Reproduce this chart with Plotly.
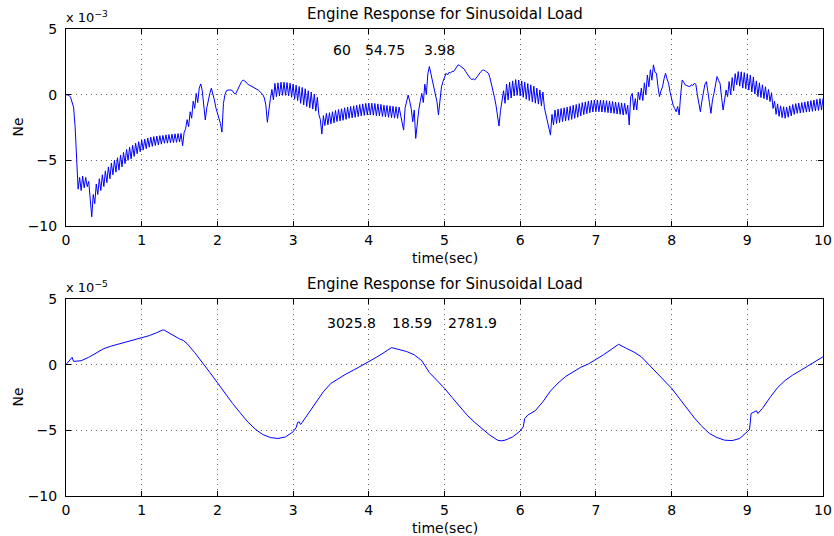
import numpy as np
import plotly.graph_objects as go

# ---------------- data ----------------
# Top panel: Ne (x 1e-3), sampled every 0.02 s from 0 to 10 s
top_ne = [
    0, 0, -0.05, -0.2, -0.5, -0.95, -2.4, -4.6, -7.2, -6.3,
    -7.3, -6.2, -7.1, -6.3, -7.0, -6.6, -8.2, -9.3, -7.6, -8.3,
    -6.8, -7.6, -6.4, -7.3, -6.1, -7.0, -5.8, -6.7, -5.5, -6.4,
    -5.2, -6.1, -5.0, -5.9, -4.8, -5.75, -4.6, -5.5, -4.4, -5.25,
    -4.17, -5.0, -4.0, -4.9, -3.85, -4.7, -3.7, -4.5, -3.58, -4.35,
    -3.46, -4.22, -3.38, -4.12, -3.3, -4.0, -3.23, -3.94, -3.19, -3.87,
    -3.15, -3.82, -3.12, -3.77, -3.1, -3.7, -3.06, -3.69, -3.04, -3.67,
    -3.0, -3.65, -2.98, -3.63, -2.96, -3.6, -2.95, -3.9, -2.9, -2.6,
    -1.9, -2.44, -1.3, -1.8, -0.5, -1.04, 0.1, -0.6, 0.5, 0.82,
    0.3, -0.9, -1.93, -1.0, -0.4, 0.1, 0.49, 0.1, -0.4, -1.0,
    -1.4, -1.8, -2.2, -2.85, -0.66, 0.0, 0.31, 0.35, 0.38, 0.36,
    0.3, 0.1, 0.05, 0.3, 0.49, 0.7, 1.0, 1.12, 1.05, 0.95,
    0.8, 0.74, 0.65, 0.6, 0.55, 0.5, 0.45, 0.35, 0.25, 0.15,
    0.0, -0.25, -0.8, -2.1, -0.9, -0.3, 0.4, -0.4, 0.86, -0.15,
    0.9, -0.1, 0.95, -0.05, 0.95, -0.05, 0.92, -0.1, 0.88, -0.2,
    0.8, -0.35, 0.72, -0.45, 0.62, -0.66, 0.55, -0.78, 0.45, -0.9,
    0.3, -1.0, 0.2, -1.1, 0.05, -1.25, -0.2, -1.5, -1.9, -3.0,
    -1.6, -2.35, -1.42, -2.3, -1.37, -2.22, -1.3, -2.15, -1.2, -2.05,
    -1.13, -2.0, -1.07, -1.95, -1.0, -1.88, -0.95, -1.8, -0.9, -1.77,
    -0.85, -1.72, -0.8, -1.67, -0.75, -1.62, -0.7, -1.58, -0.66, -1.55,
    -0.64, -1.55, -0.65, -1.56, -0.67, -1.6, -0.7, -1.62, -0.74, -1.66,
    -0.8, -1.68, -0.82, -1.72, -0.85, -1.75, -0.88, -1.78, -0.92, -1.8,
    -0.95, -1.5, -1.9, -2.7, -1.0, -0.4, -0.03, -0.5, -1.05, -2.06,
    -1.17, -3.33, -2.0, -1.17, -0.5, 0.1, -0.6, 0.8, 0.0, 1.6,
    2.14, 1.6, 1.0, 0.5, 0.0, -0.53, -1.55, -0.3, 0.6, 1.0,
    1.4, 1.63, 1.5, 1.7, 1.65, 1.78, 1.76, 1.95, 2.15, 2.27,
    2.22, 2.15, 2.05, 1.95, 1.75, 1.55, 1.35, 1.25, 1.15, 1.2,
    1.12, 1.3, 1.45, 1.6, 1.75, 1.85, 1.88, 1.8, 1.72, 1.63,
    1.3, 0.86, 0.4, -0.2, -0.8, -1.8, -2.39, -1.2, -0.41, 0.3,
    -0.66, 0.8, -0.4, 0.95, -0.25, 1.05, -0.1, 1.15, -0.05, 1.12,
    -0.1, 1.05, -0.2, 0.95, -0.35, 0.85, -0.45, 0.75, -0.55, 0.65,
    -0.65, 0.5, -0.72, 0.36, -0.85, 0.2, -1.0, -1.5, -1.9, -2.6,
    -3.08, -1.5, -2.3, -1.17, -2.19, -1.1, -2.12, -1.05, -2.05, -1.0,
    -2.0, -0.95, -1.95, -0.88, -1.88, -0.8, -1.8, -0.75, -1.72, -0.68,
    -1.62, -0.6, -1.52, -0.55, -1.45, -0.48, -1.38, -0.43, -1.32, -0.41,
    -1.3, -0.41, -1.3, -0.42, -1.32, -0.43, -1.34, -0.46, -1.37, -0.48,
    -1.4, -0.52, -1.43, -0.56, -1.47, -0.6, -1.5, -0.63, -1.55, -0.66,
    -1.5, -0.8, -2.31, -0.15, 0.1, -1.17, -0.3, -1.17, 0.2, -0.4,
    0.5, -0.45, 0.9, 0.0, 1.5, 0.6, 1.9, 1.1, 2.27, 1.7,
    1.63, 0.6, -0.15, 0.3, 0.6, 1.2, 1.63, 1.2, 0.86, 0.2,
    -0.41, -0.8, -1.05, -1.3, -0.9, -1.55, 0.0, 1.12, 0.95, 0.74,
    0.7, 0.62, 0.6, 0.75, 0.7, 0.86, 0.8, 0.0, -0.8, -1.3,
    -0.5, 0.1, 0.8, 0.99, 0.3, -0.6, -1.42, -0.4, 0.1, 0.9,
    1.38, 1.1, 0.86, -0.2, -1.17, -0.4, 0.36, -0.15, 1.0, 0.0,
    1.3, 0.3, 1.6, 0.74, 1.76, 0.65, 1.74, 0.5, 1.68, 0.45,
    1.6, 0.35, 1.5, 0.2, 1.35, 0.05, 1.05, -0.15, 0.9, -0.22,
    0.75, -0.3, 0.6, -0.4, 0.4, -0.53, 0.15, -1.05, -0.5, -1.5,
    -0.7, -1.65, -0.85, -1.75, -0.92, -1.8, -0.95, -1.72, -0.85, -1.62,
    -0.75, -1.5, -0.68, -1.42, -0.64, -1.4, -0.6, -1.36, -0.55, -1.33,
    -0.5, -1.3, -0.45, -1.27, -0.4, -1.24, -0.35, -1.2, -0.3, -1.17,
    -0.28,
]
top_t = np.linspace(0, 10, len(top_ne))

# Bottom panel: Ne (x 1e-5)
bot_t = [
    0.0, 0.05, 0.08, 0.1, 0.15, 0.2, 0.3, 0.4, 0.5, 0.6, 0.7, 0.8, 0.9, 1.0,
    1.1, 1.2, 1.28, 1.3, 1.4, 1.5, 1.55, 1.6, 1.7, 1.8, 1.9, 2.0, 2.1, 2.2,
    2.3, 2.4, 2.5, 2.6, 2.7, 2.8, 2.9, 3.0, 3.04, 3.06, 3.08, 3.1, 3.12, 3.2,
    3.3, 3.4, 3.5, 3.6, 3.7, 3.8, 3.9, 4.0, 4.1, 4.2, 4.3, 4.4, 4.5, 4.6,
    4.7, 4.8, 4.9, 5.0, 5.1, 5.2, 5.3, 5.4, 5.5, 5.6, 5.7, 5.75, 5.8, 5.9,
    6.0, 6.04, 6.06, 6.1, 6.2, 6.3, 6.4, 6.5, 6.6, 6.7, 6.8, 6.9, 7.0, 7.1,
    7.2, 7.3, 7.4, 7.5, 7.6, 7.7, 7.8, 7.9, 8.0, 8.1, 8.2, 8.3, 8.4, 8.5,
    8.6, 8.7, 8.8, 8.9, 9.0, 9.03, 9.05, 9.08, 9.12, 9.14, 9.2, 9.3, 9.4,
    9.5, 9.6, 9.7, 9.8, 9.9, 10.0,
]
bot_ne = [
    0.0, 0.36, 0.56, 0.25, 0.3, 0.3, 0.56, 0.92, 1.22, 1.42, 1.58, 1.73, 1.88, 2.04,
    2.21, 2.44, 2.65, 2.62, 2.26, 1.96, 1.85, 1.6, 0.92, 0.2, -0.59, -1.37, -2.19, -2.95,
    -3.66, -4.35, -4.91, -5.32, -5.55, -5.62, -5.5, -5.11, -4.8, -4.4, -4.35, -4.55, -4.4, -3.72,
    -2.82, -2.06, -1.42, -1.04, -0.71, -0.41, -0.1, 0.2, 0.56, 0.92, 1.3, 1.15, 1.0, 0.75,
    0.3, -0.6, -1.2, -1.8, -2.5, -3.2, -3.85, -4.4, -4.9, -5.37, -5.75, -5.8, -5.75, -5.5,
    -5.05, -4.73, -4.1, -3.84, -3.5, -2.82, -2.0, -1.4, -0.9, -0.55, -0.2, 0.05, 0.38, 0.75,
    1.15, 1.55, 1.25, 0.97, 0.6, 0.0, -0.55, -1.15, -1.8, -2.55, -3.3, -4.05, -4.7, -5.24,
    -5.55, -5.75, -5.78, -5.62, -5.1, -4.94, -3.72, -3.6, -3.51, -3.72, -3.33, -2.5, -1.75,
    -1.2, -0.79, -0.45, -0.1, 0.25, 0.6,
]

x_ticks = [0, 1, 2, 3, 4, 5, 6, 7, 8, 9, 10]
y_ticks = [-10, -5, 0, 5]
titles = ["Engine Response for Sinusoidal Load", "Engine Response for Sinusoidal Load"]
exponents = ["−3", "−5"]
top_numbers = ["60", "54.75", "3.98"]
bot_numbers = ["3025.8", "18.59", "2781.9"]

# ---------------- layout ----------------
W, H = 834, 536
FONT = "DejaVu Sans"
x0p, x1p = 66, 823
panels = [(29, 226), (299, 496)]  # pixel top/bottom of each plot area


def ydom(t, b):
    return [(H - b) / H, (H - t) / H]


fig = go.Figure()
fig.add_trace(go.Scatter(x=top_t, y=top_ne, mode="lines",
                         line=dict(color="#0000ff", width=1), xaxis="x", yaxis="y"))
fig.add_trace(go.Scatter(x=bot_t, y=bot_ne, mode="lines",
                         line=dict(color="#0000ff", width=1), xaxis="x2", yaxis="y2"))

axis_common = dict(
    showline=True, linecolor="black", linewidth=1, mirror="ticks",
    ticks="inside", ticklen=5, tickcolor="black", tickwidth=1,
    showgrid=True, gridcolor="#666666", griddash="1px,4px", gridwidth=1,
    zeroline=False, automargin=False,
    tickfont=dict(family=FONT, size=14, color="black"),
)

layout = dict(
    width=W, height=H, margin=dict(l=0, r=0, t=0, b=0, autoexpand=False),
    paper_bgcolor="white", plot_bgcolor="white", showlegend=False,
    font=dict(family=FONT, size=14, color="black"),
)
for i, (pt, pb) in enumerate(panels):
    sx = "" if i == 0 else "2"
    layout["xaxis" + sx] = dict(axis_common, domain=[x0p / W, x1p / W], range=[0, 10],
                                tickvals=x_ticks, anchor="y" + sx, ticklabelstandoff=1)
    layout["yaxis" + sx] = dict(axis_common, domain=ydom(pt, pb), range=[-10, 5],
                                tickvals=y_ticks, anchor="x" + sx, ticklabelstandoff=5)

fig.update_layout(**layout)

ann = []
for i, (pt, pb) in enumerate(panels):
    # title
    ann.append(dict(text=titles[i], xref="paper", yref="paper", x=(x0p + x1p) / 2 / W,
                    y=(H - (pt - 15)) / H, xanchor="center", yanchor="middle",
                    showarrow=False, font=dict(family=FONT, size=15)))
    # exponent label
    ann.append(dict(text="x 10<sup>%s</sup>" % exponents[i], xref="paper", yref="paper",
                    x=(x0p - 2) / W, y=(H - (pt - 2)) / H, xanchor="left", yanchor="bottom",
                    showarrow=False, font=dict(family=FONT, size=13)))
    # y label
    ann.append(dict(text="Ne", xref="paper", yref="paper", x=17 / W,
                    y=(H - (pt + pb) / 2) / H, xanchor="center", yanchor="middle",
                    textangle=-90, showarrow=False, font=dict(family=FONT, size=14)))
    # x label
    ann.append(dict(text="time(sec)", xref="paper", yref="paper", x=(x0p + x1p) / 2 / W,
                    y=(H - (pb + 32)) / H, xanchor="center", yanchor="middle",
                    showarrow=False, font=dict(family=FONT, size=14)))

# numeric text inside plots
top_pos = [3.64, 4.21, 4.94]
bot_pos = [3.77, 4.57, 5.37]
for txt, xp in zip(top_numbers, top_pos):
    ann.append(dict(text=txt, xref="x", yref="y", x=xp, y=3.41, showarrow=False,
                    xanchor="center", yanchor="middle", font=dict(family=FONT, size=14)))
for txt, xp in zip(bot_numbers, bot_pos):
    ann.append(dict(text=txt, xref="x2", yref="y2", x=xp, y=3.18, showarrow=False,
                    xanchor="center", yanchor="middle", font=dict(family=FONT, size=14)))

fig.update_layout(annotations=ann)
fig.write_html("out.html", config={"displayModeBar": False},
               post_script="document.body.style.margin='0';document.body.style.padding='0';")
